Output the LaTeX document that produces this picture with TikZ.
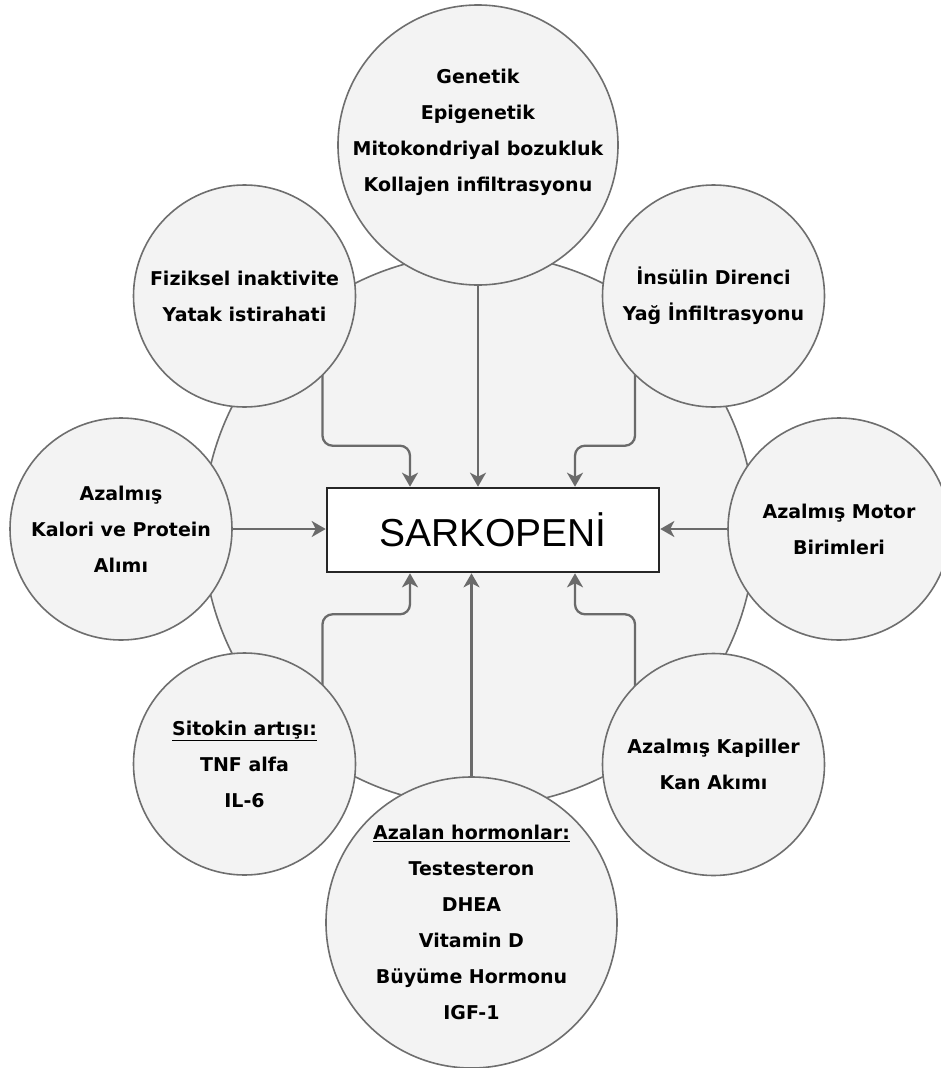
\documentclass[tikz,border=0pt]{standalone}
\usepackage{fontspec}
\setmainfont{DejaVu Sans}
\newfontfamily\titlefont{Liberation Sans}
\usepackage{tikz}
\usetikzlibrary{arrows.meta, backgrounds}
\definecolor{ringGray}{HTML}{6E6E6E}
\definecolor{fillGray}{HTML}{F3F3F3}
\definecolor{arrowGray}{HTML}{6A6A6A}
\definecolor{inkDark}{HTML}{262626}

\begin{document}
\begin{tikzpicture}[
  x=1pt, y=-1pt,
  font=\fontsize{19}{36}\selectfont\bfseries,
  circ/.style={circle, draw=ringGray, fill=fillGray, line width=1.6pt, align=center, inner sep=0pt, minimum size=222pt},
  txt/.style={align=center, inner sep=0pt},
  hub/.style={draw=inkDark, fill=white, line width=2.6pt, minimum width=332pt, minimum height=84pt, font=\titlefont\fontsize{39}{39}\selectfont},
  arr/.style={-{Stealth[length=14pt, width=16pt, inset=4pt]}, line width=2.3pt, draw=arrowGray, rounded corners=10pt}
]
\useasboundingbox (0,0) rectangle (941,1068);

% ---------- BACKGROUND RING ----------
\begin{scope}[on background layer]
\node[circ, minimum size=552pt] (ring) at (479,530) {};
\end{scope}

% ---------- CENTRE ----------
\node[hub] (sark) at (493,530) {SARKOPENİ};

% ---------- CAUSES ----------
\node[circ, minimum size=280pt] (gen) at (478,145) {};
\node[txt] (genTxt) at (478,132) {Genetik\\Epigenetik\\Mitokondriyal bozukluk\\Kollajen infiltrasyonu};

\node[circ] (fiz) at (244.5,296) {Fiziksel inaktivite\\Yatak istirahati};
\node[circ] (ins) at (713.5,296) {İnsülin Direnci\\Yağ İnfiltrasyonu};
\node[circ] (kal) at (121,529) {Azalmış\\Kalori ve Protein\\Alımı};
\node[circ] (mot) at (839,529) {Azalmış Motor\\Birimleri};
\node[circ] (sit) at (244.5,764) {\underline{Sitokin artışı:}\\TNF alfa\\IL-6};
\node[circ] (kap) at (713.5,764.5) {Azalmış Kapiller\\Kan Akımı};
\node[circ, minimum size=291pt] (hor) at (471.5,922.5) {\underline{Azalan hormonlar:}\\Testesteron\\DHEA\\Vitamin D\\Büyüme Hormonu\\IGF-1};

% ---------- CONNECTORS ----------
\draw[arr] (gen.south) -- (gen.south |- sark.north);
\draw[arr] (hor.north) -- (hor.north |- sark.south);
\draw[arr] (kal.east) -- (kal.east -| sark.west);
\draw[arr] (mot.west) -- (mot.west -| sark.east);

\begin{scope}[on background layer]
\draw[arr] ([xshift=78pt]fiz.center) |- ([xshift=-83pt, yshift=41pt]sark.north) -- ([xshift=-83pt]sark.north);
\draw[arr] ([xshift=-78.5pt]ins.center) |- ([xshift=82pt, yshift=41pt]sark.north) -- ([xshift=82pt]sark.north);
\draw[arr] ([xshift=78pt]sit.center) |- ([xshift=-83pt, yshift=-41pt]sark.south) -- ([xshift=-83pt]sark.south);
\draw[arr] ([xshift=-78.5pt]kap.center) |- ([xshift=82pt, yshift=-41pt]sark.south) -- ([xshift=82pt]sark.south);
\end{scope}

\end{tikzpicture}
\end{document}
